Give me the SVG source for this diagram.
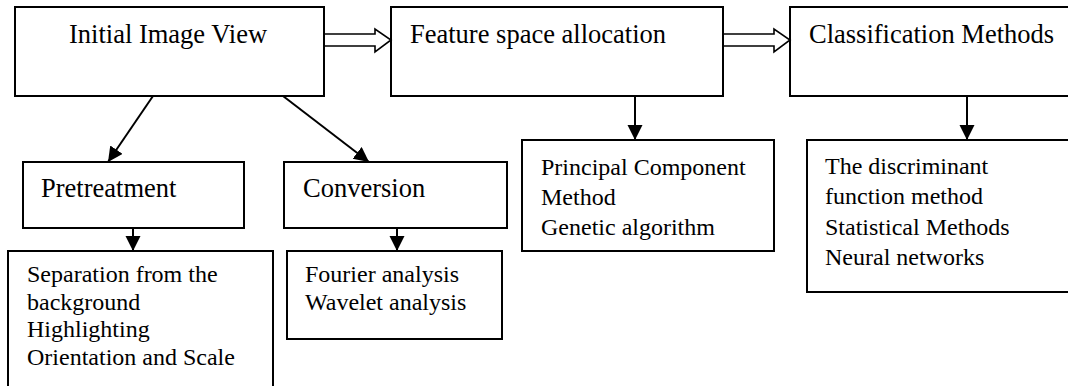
<svg xmlns="http://www.w3.org/2000/svg" width="1068" height="386" viewBox="0 0 1068 386">
<style>
.box{fill:#fff;stroke:#000;stroke-width:2}
.h{font-family:"Liberation Serif","Times New Roman",serif;font-size:26.5px;fill:#000}
.t{font-family:"Liberation Serif","Times New Roman",serif;font-size:24px;fill:#000}
.ln{stroke:#000;stroke-width:2;fill:none}
.blk{fill:#fff;stroke:#000;stroke-width:1.6}
</style>
<defs>
<marker id="ah" markerUnits="userSpaceOnUse" markerWidth="16" markerHeight="16" refX="15" refY="7.5" orient="auto" viewBox="0 0 16 16">
<path d="M0,0 L15,7.5 L0,15 z" fill="#000"/>
</marker>
</defs>
<g id="n-initial"><rect class="box" x="15" y="7" width="309" height="89"/><text class="h" x="69" y="43">Initial Image View</text></g>
<g id="n-feature"><rect class="box" x="391" y="7" width="332" height="89"/><text class="h" x="410" y="43">Feature space allocation</text></g>
<g id="n-class"><rect class="box" x="790" y="7" width="290" height="89"/><text class="h" x="809" y="43">Classification Methods</text></g>
<g id="n-pre"><rect class="box" x="23" y="162" width="221" height="66"/><text class="h" x="41" y="197">Pretreatment</text></g>
<g id="n-conv"><rect class="box" x="284" y="162" width="223" height="66"/><text class="h" x="303" y="197">Conversion</text></g>
<g id="n-sep"><rect class="box" x="8" y="251" width="265" height="145"/>
<text class="t" x="27" y="282">Separation from the</text>
<text class="t" x="27" y="310">background</text>
<text class="t" x="27" y="337">Highlighting</text>
<text class="t" x="27" y="365">Orientation and Scale</text></g>
<g id="n-four"><rect class="box" x="287" y="251" width="215" height="88"/>
<text class="t" x="305" y="282">Fourier analysis</text>
<text class="t" x="305" y="310">Wavelet analysis</text></g>
<g id="n-pcm"><rect class="box" x="522" y="140" width="252" height="111"/>
<text class="t" x="541" y="175">Principal Component</text>
<text class="t" x="541" y="205">Method</text>
<text class="t" x="541" y="235">Genetic algorithm</text></g>
<g id="n-disc"><rect class="box" x="807" y="140" width="273" height="152"/>
<text class="t" x="825" y="174">The discriminant</text>
<text class="t" x="825" y="204">function method</text>
<text class="t" x="825" y="235">Statistical Methods</text>
<text class="t" x="825" y="265">Neural networks</text></g>
<g id="connectors">
<path class="blk" d="M325,34 H375 V29 L391,40 L375,52 V46 H325"/>
<path class="blk" d="M724,34 H774 V29 L790,40 L774,52 V46 H724"/>
<line class="ln" x1="635" y1="96" x2="635" y2="140" marker-end="url(#ah)"/>
<line class="ln" x1="967" y1="96" x2="967" y2="140" marker-end="url(#ah)"/>
<line class="ln" x1="153" y1="96" x2="108" y2="162" marker-end="url(#ah)"/>
<line class="ln" x1="283" y1="96" x2="369" y2="162" marker-end="url(#ah)"/>
<line class="ln" x1="133" y1="228" x2="133" y2="251" marker-end="url(#ah)"/>
<line class="ln" x1="397" y1="228" x2="397" y2="251" marker-end="url(#ah)"/>
</g>
</svg>
